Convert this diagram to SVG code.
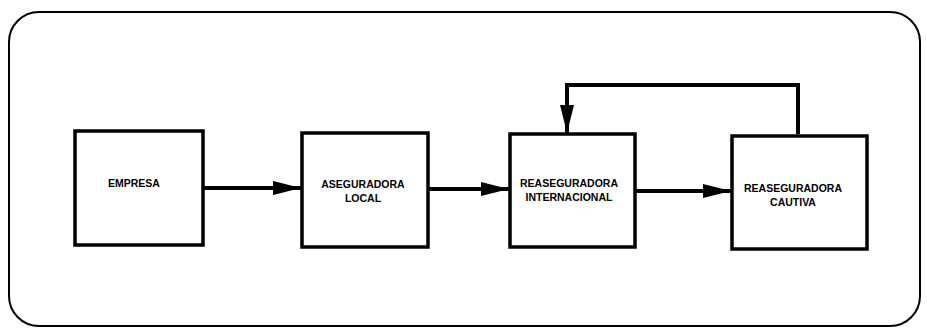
<svg xmlns="http://www.w3.org/2000/svg" width="927" height="330" viewBox="0 0 927 330">
<style>
.box{fill:#fff;stroke:#000;stroke-width:3.5}
.lbl{font-family:"Liberation Sans",Arial,sans-serif;font-weight:bold;font-size:10.5px;fill:#000;text-anchor:middle}
.con{fill:none;stroke:#000;stroke-width:4}
</style>
<defs>
<marker id="ah" markerWidth="28" markerHeight="16" refX="28" refY="8" orient="auto" markerUnits="userSpaceOnUse">
<path d="M0,1 L28,8 L0,15 Z" fill="#000"/>
</marker>
</defs>
<rect x="9" y="12" width="911" height="314" rx="30" ry="30" fill="#fff" stroke="#000" stroke-width="2"/>
<g id="connectors">
<line class="con" x1="203" y1="188" x2="301" y2="188" marker-end="url(#ah)"/>
<line class="con" x1="428" y1="189" x2="509" y2="189" marker-end="url(#ah)"/>
<line class="con" x1="636" y1="191" x2="731" y2="191" marker-end="url(#ah)"/>
<polyline class="con" points="798,134 798,85 567,85 567,133" marker-end="url(#ah)"/>
</g>
<g id="empresa">
<rect class="box" x="75" y="131" width="128" height="114"/>
<text class="lbl" x="134" y="187">EMPRESA</text>
</g>
<g id="aseguradora-local">
<rect class="box" x="302" y="133" width="126" height="114"/>
<text class="lbl" x="363" y="188">ASEGURADORA</text>
<text class="lbl" x="363" y="202">LOCAL</text>
</g>
<g id="reaseguradora-internacional">
<rect class="box" x="510" y="134" width="125" height="113"/>
<text class="lbl" x="569" y="187">REASEGURADORA</text>
<text class="lbl" x="569" y="201">INTERNACIONAL</text>
</g>
<g id="reaseguradora-cautiva">
<rect class="box" x="732" y="136" width="135" height="113"/>
<text class="lbl" x="793" y="192">REASEGURADORA</text>
<text class="lbl" x="793" y="206">CAUTIVA</text>
</g>
</svg>
